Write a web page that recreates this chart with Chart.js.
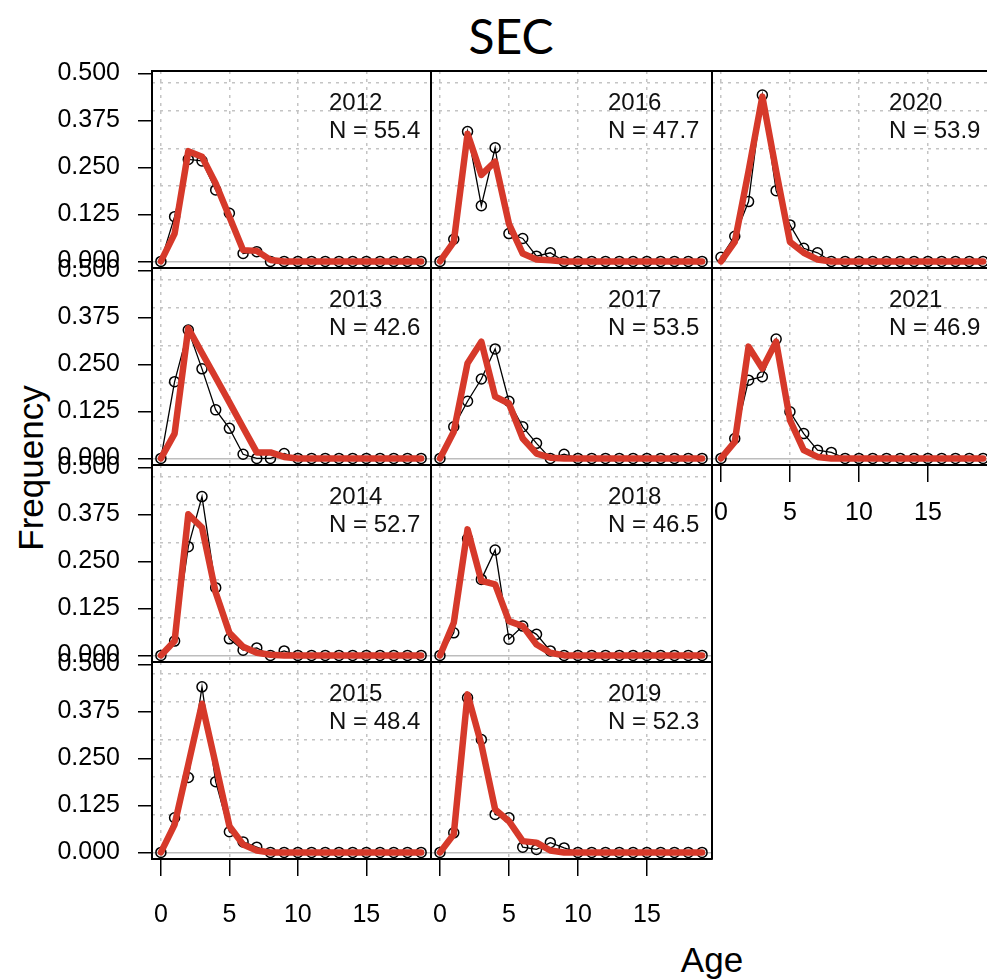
<!DOCTYPE html>
<html>
<head>
<meta charset="utf-8">
<title>SEC</title>
<script src="https://cdn.jsdelivr.net/npm/chart.js@4.4.1/dist/chart.umd.min.js"></script>
<style>
  html, body { margin: 0; padding: 0; background: #fff; overflow: hidden; }
  body { width: 987px; height: 979px; position: relative; font-family: "Liberation Sans", Arial, sans-serif; color: #000; }
  .panel { position: absolute; }
  .label { position: absolute; transform: translate(-50%, -50%); white-space: nowrap; }
  #title { left: 511px; top: 35px; font-family: Lato, "Open Sans", sans-serif; font-size: 48px; }
  #ylab { left: 31px; top: 468px; font-size: 35px; transform: translate(-50%, -50%) rotate(-90deg); }
  #xlab { left: 712px; top: 960px; font-size: 35px; }
</style>
</head>
<body>
<div id="title" class="label">SEC</div>
<div id="ylab" class="label">Frequency</div>
<div id="xlab" class="label">Age</div>
<div id="grid"></div>

<script>
// Ages and axis ticks
const ages = [0, 1, 2, 3, 4, 5, 6, 7, 8, 9, 10, 11, 12, 13, 14, 15, 16, 17, 18, 19];
const ageTicks = [0, 5, 10, 15];
const freqTicks = [0, 0.125, 0.25, 0.375, 0.5];
const freqGrid = [0.1, 0.2, 0.3, 0.4, 0.476];

const years = [2012, 2013, 2014, 2015, 2016, 2017, 2018, 2019, 2020, 2021];
const sampleN = [55.4, 42.6, 52.7, 48.4, 47.7, 53.5, 46.5, 52.3, 53.9, 46.9];

// Observed (black) and fitted (red) age compositions
const obs2012 = [0, 0.119, 0.271, 0.267, 0.19, 0.128, 0.021, 0.026, 0, 0, 0, 0, 0, 0, 0, 0, 0, 0, 0, 0];
const fit2012 = [0, 0.074, 0.293, 0.278, 0.207, 0.119, 0.030, 0.028, 0.004, 0, 0, 0, 0, 0, 0, 0, 0, 0, 0, 0];
const obs2013 = [0, 0.204, 0.341, 0.238, 0.129, 0.080, 0.011, 0, 0, 0.013, 0, 0, 0, 0, 0, 0, 0, 0, 0, 0];
const fit2013 = [0, 0.066, 0.346, 0.28, 0.215, 0.149, 0.082, 0.016, 0.016, 0.004, 0, 0, 0, 0, 0, 0, 0, 0, 0, 0];
const obs2014 = [0, 0.038, 0.289, 0.422, 0.18, 0.044, 0.014, 0.020, 0, 0.012, 0, 0, 0, 0, 0, 0, 0, 0, 0, 0];
const fit2014 = [0, 0.038, 0.375, 0.34, 0.167, 0.06, 0.023, 0.007, 0.002, 0, 0, 0, 0, 0, 0, 0, 0, 0, 0, 0];
const obs2015 = [0, 0.092, 0.199, 0.44, 0.188, 0.055, 0.028, 0.014, 0, 0, 0, 0, 0, 0, 0, 0, 0, 0, 0, 0];
const fit2015 = [0, 0.074, 0.234, 0.395, 0.234, 0.07, 0.021, 0.005, 0, 0, 0, 0, 0, 0, 0, 0, 0, 0, 0, 0];
const obs2016 = [0, 0.059, 0.345, 0.148, 0.302, 0.074, 0.061, 0.014, 0.023, 0, 0, 0, 0, 0, 0, 0, 0, 0, 0, 0];
const fit2016 = [0, 0.052, 0.339, 0.23, 0.265, 0.10, 0.021, 0.005, 0.003, 0, 0, 0, 0, 0, 0, 0, 0, 0, 0, 0];
const obs2017 = [0, 0.084, 0.152, 0.211, 0.291, 0.152, 0.084, 0.040, 0, 0.011, 0, 0, 0, 0, 0, 0, 0, 0, 0, 0];
const fit2017 = [0, 0.071, 0.253, 0.31, 0.164, 0.146, 0.053, 0.013, 0.002, 0, 0, 0, 0, 0, 0, 0, 0, 0, 0, 0];
const obs2018 = [0, 0.06, 0.31, 0.202, 0.28, 0.043, 0.078, 0.056, 0.012, 0, 0, 0, 0, 0, 0, 0, 0, 0, 0, 0];
const fit2018 = [0, 0.087, 0.335, 0.198, 0.189, 0.091, 0.078, 0.029, 0.007, 0, 0, 0, 0, 0, 0, 0, 0, 0, 0, 0];
const obs2019 = [0, 0.052, 0.411, 0.30, 0.101, 0.092, 0.014, 0.008, 0.026, 0.012, 0, 0, 0, 0, 0, 0, 0, 0, 0, 0];
const fit2019 = [0, 0.048, 0.42, 0.287, 0.114, 0.083, 0.030, 0.026, 0.005, 0, 0, 0, 0, 0, 0, 0, 0, 0, 0, 0];
const obs2020 = [0.011, 0.067, 0.159, 0.442, 0.188, 0.097, 0.035, 0.023, 0, 0, 0, 0, 0, 0, 0, 0, 0, 0, 0, 0];
const fit2020 = [0, 0.052, 0.24, 0.438, 0.24, 0.052, 0.023, 0.005, 0, 0, 0, 0, 0, 0, 0, 0, 0, 0, 0, 0];
const obs2021 = [0, 0.053, 0.208, 0.217, 0.317, 0.124, 0.066, 0.022, 0.016, 0, 0, 0, 0, 0, 0, 0, 0, 0, 0, 0];
const fit2021 = [0, 0.044, 0.297, 0.239, 0.31, 0.102, 0.022, 0.004, 0, 0, 0, 0, 0, 0, 0, 0, 0, 0, 0, 0];

const observed = [obs2012, obs2013, obs2014, obs2015, obs2016, obs2017, obs2018, obs2019, obs2020, obs2021];
const fitted = [fit2012, fit2013, fit2014, fit2015, fit2016, fit2017, fit2018, fit2019, fit2020, fit2021];

// Panel grid: 4 rows per column, years run down the columns
const colLeft = [152, 431, 712];
const colWidth = [279, 281, 281];
const rowTop = [71, 268, 465, 662];
const rowHeight = 197;
const bottomPanels = [2015, 2019, 2021];

const AGE_MIN = -0.65, AGE_MAX = 19.72;
const FREQ_MIN = -0.0175, FREQ_MAX = 0.506;
const RED = '#d6392a';
const GRID_GRAY = '#c4c4c4';
const FONT = '"Liberation Sans", Arial, sans-serif';

Chart.defaults.color = '#000';
Chart.defaults.font.family = FONT;

// Year and sample size in the top right of each panel
const panelText = {
    id: 'panelText',
    afterDatasetsDraw(chart, args, opts) {
        const { ctx, chartArea } = chart;
        ctx.save();
        ctx.font = '24px ' + FONT;
        ctx.fillStyle = '#111';
        ctx.textBaseline = 'middle';
        ctx.textAlign = 'left';
        ctx.fillText(String(opts.year), chartArea.left + 177, chartArea.top + 32);
        ctx.fillText('N = ' + opts.n.toFixed(1), chartArea.left + 177, chartArea.top + 60);
        ctx.restore();
    }
};

function toPoints(values) {
    return ages.map((a, i) => ({ x: a, y: values[i] }));
}

function renderPanel(i) {
    const col = Math.floor(i / 4);
    const row = i % 4;
    const year = years[i];
    const showX = bottomPanels.includes(year);
    const showY = col === 0;
    // the lone panel in the last column sits its age labels a bit closer
    const xPad = row === 3 ? 24 : 16;

    // generous margins so the axis label padding never squeezes the plot box
    const L = showY ? 152 : 45;
    const T = 45, R = 45;
    const B = showX ? 100 : 45;
    const w = colWidth[col] + L + R;
    const h = rowHeight + T + B;

    const wrap = document.createElement('div');
    wrap.className = 'panel';
    wrap.style.left = (colLeft[col] - L) + 'px';
    wrap.style.top = (rowTop[row] - T) + 'px';
    const canvas = document.createElement('canvas');
    canvas.width = w;
    canvas.height = h;
    canvas.style.width = w + 'px';
    canvas.style.height = h + 'px';
    wrap.appendChild(canvas);
    document.getElementById('grid').appendChild(wrap);

    new Chart(canvas, {
        type: 'line',
        data: {
            datasets: [{
                label: 'Fitted',
                data: toPoints(fitted[i]),
                borderColor: RED,
                borderWidth: 6.5,
                borderCapStyle: 'round',
                borderJoinStyle: 'round',
                pointRadius: 0,
                tension: 0
            }, {
                label: 'Observed',
                data: toPoints(observed[i]),
                borderColor: '#000',
                borderWidth: 1.3,
                pointRadius: 5,
                pointBorderWidth: 1.5,
                pointBorderColor: '#000',
                pointBackgroundColor: 'rgba(0,0,0,0)',
                tension: 0
            }]
        },
        options: {
            responsive: false,
            animation: false,
            events: [],
            layout: { padding: { left: 0, top: T, right: R, bottom: 0 } },
            plugins: {
                legend: { display: false },
                tooltip: { enabled: false },
                panelText: { year: year, n: sampleN[i] }
            },
            scales: {
                x: {
                    type: 'linear',
                    position: 'bottom',
                    min: AGE_MIN,
                    max: AGE_MAX,
                    afterBuildTicks: s => { s.ticks = ageTicks.map(v => ({ value: v })); },
                    afterFit: s => { s.height = B; },
                    ticks: { display: showX, padding: xPad, maxRotation: 0, autoSkip: false, font: { size: 25 } },
                    grid: {
                        color: GRID_GRAY, lineWidth: 1.5,
                        drawTicks: showX, tickLength: 17,
                        tickColor: '#000', tickWidth: 1.5, tickBorderDash: []
                    },
                    border: { color: '#000', width: 2, dash: [3, 5] }
                },
                xTop: {
                    type: 'linear',
                    position: 'top',
                    min: AGE_MIN,
                    max: AGE_MAX,
                    afterFit: s => { s.height = 0; },
                    ticks: { display: false },
                    grid: { display: false },
                    border: { color: '#000', width: 2 }
                },
                y: {
                    type: 'linear',
                    position: 'left',
                    min: FREQ_MIN,
                    max: FREQ_MAX,
                    afterBuildTicks: s => { s.ticks = freqTicks.map(v => ({ value: v })); },
                    afterFit: s => { s.width = L; },
                    ticks: {
                        display: showY, padding: 18, autoSkip: false, font: { size: 25 },
                        callback: v => Number(v).toFixed(3)
                    },
                    grid: {
                        color: c => (c.tick && c.tick.value === 0) ? '#bdbdbd' : 'rgba(0,0,0,0)',
                        lineWidth: 1.5,
                        drawTicks: showY, tickLength: 14,
                        tickColor: '#000', tickWidth: 1.5, tickBorderDash: []
                    },
                    border: { color: '#000', width: 2 }
                },
                yRight: {
                    type: 'linear',
                    position: 'right',
                    min: FREQ_MIN,
                    max: FREQ_MAX,
                    afterBuildTicks: s => { s.ticks = freqGrid.map(v => ({ value: v })); },
                    afterFit: s => { s.width = 0; },
                    ticks: { display: false },
                    grid: { color: GRID_GRAY, lineWidth: 1.5, drawTicks: false },
                    border: { color: '#000', width: 2, dash: [3, 5] }
                }
            }
        },
        plugins: [panelText]
    });
}

years.forEach((y, i) => renderPanel(i));
</script>
</body>
</html>
